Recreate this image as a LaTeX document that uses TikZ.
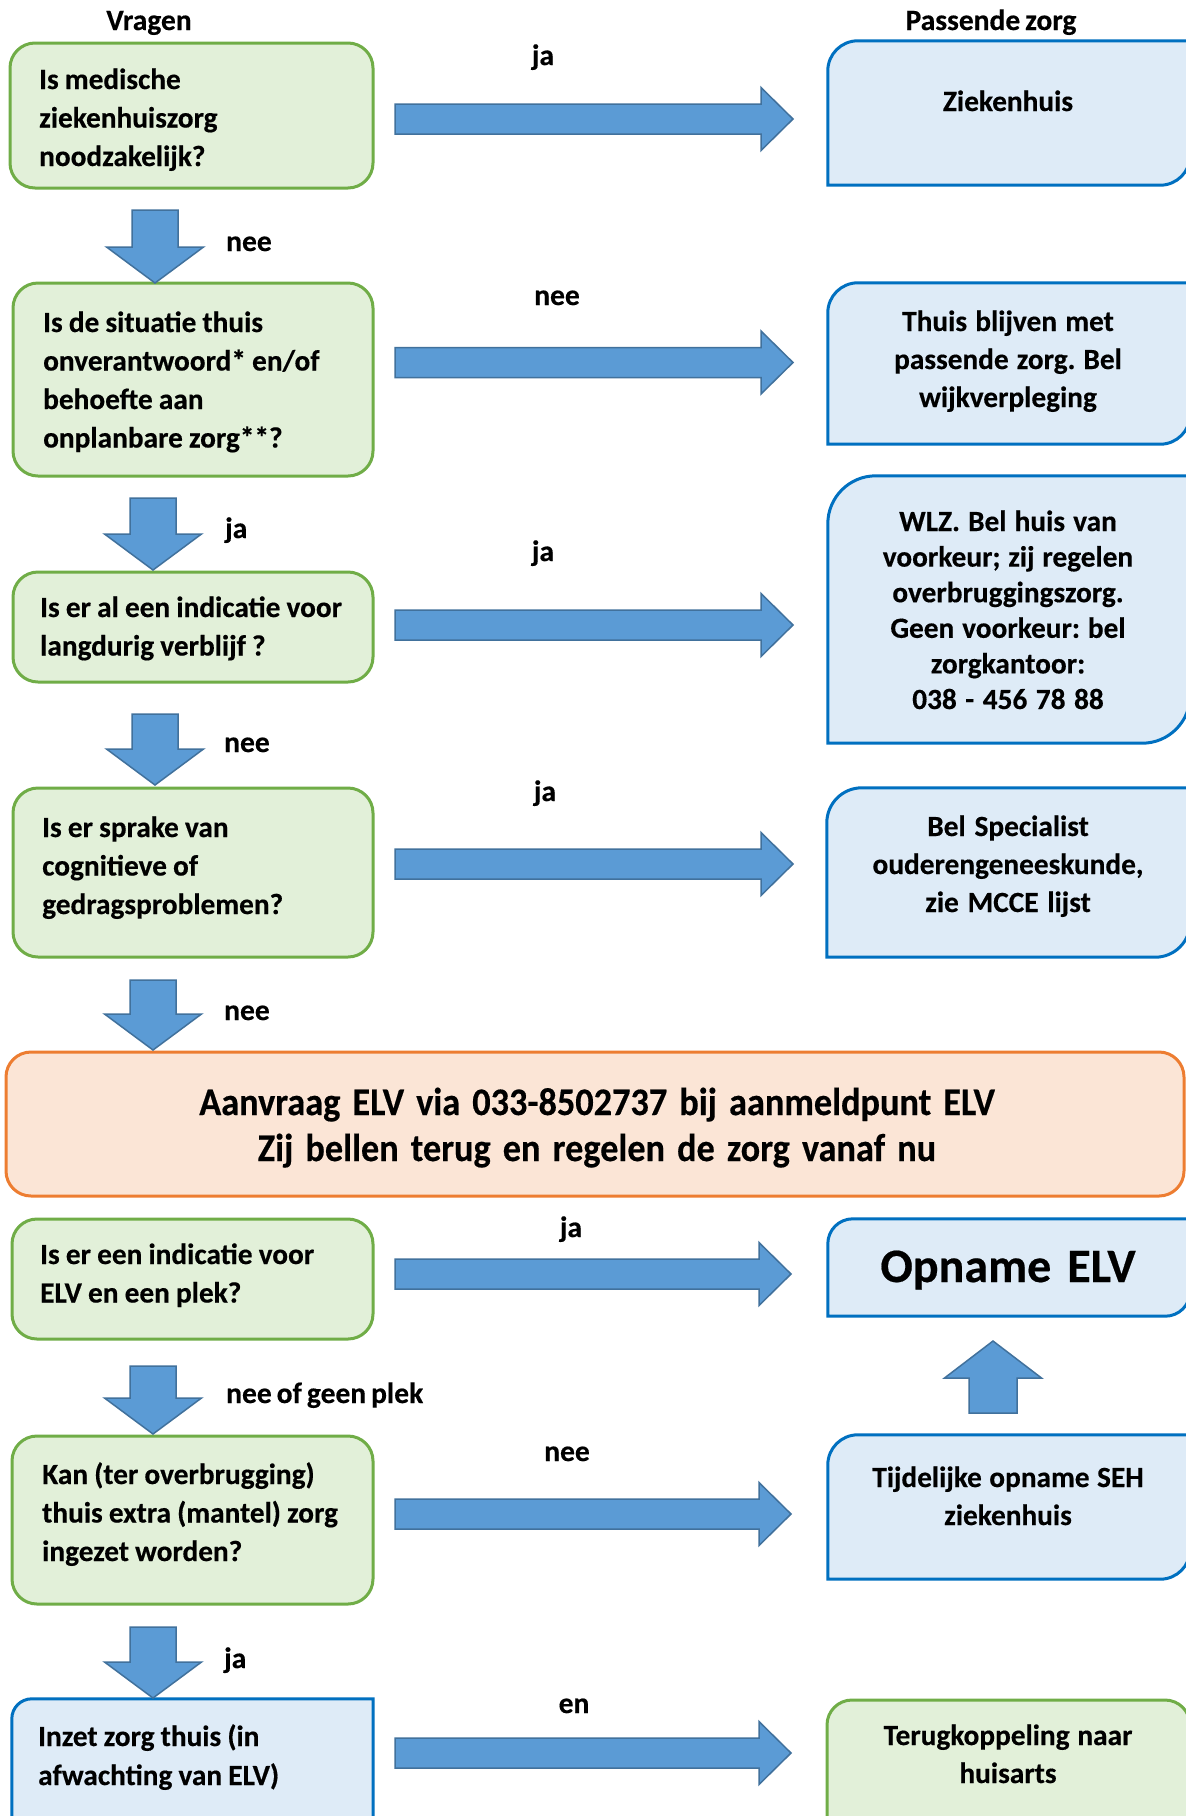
\documentclass[tikz,border=0pt]{standalone}
\usepackage{fontspec}
\setmainfont{Carlito}[BoldFeatures={FakeBold=0.4}]
\usetikzlibrary{calc}
\definecolor{gfill}{HTML}{E2F0D9}
\definecolor{gline}{HTML}{70AD47}
\definecolor{bfill}{HTML}{DEEBF7}
\definecolor{bline}{HTML}{0070C0}
\definecolor{ofill}{HTML}{FBE5D6}
\definecolor{oline}{HTML}{ED7D31}
\definecolor{afill}{HTML}{5B9BD5}
\definecolor{aline}{HTML}{41719C}
\newcommand\tfnt[2]{\bfseries\fontsize{#1}{#2}\selectfont\frenchspacing\spaceskip=0.17em plus 0.05em minus 0.03em\relax}
\newcommand\narrowsp{\frenchspacing\spaceskip=0.21em plus 0.05em minus 0.03em\relax}
\tikzset{
  qbox/.style={draw=gline, fill=gfill, line width=3pt, rounded corners=25pt, inner sep=0pt},
  obox/.style={draw=oline, fill=ofill, line width=3pt, rounded corners=25pt, inner sep=0pt},
  bshape/.style={draw=bline, fill=bfill, line width=3pt},
  shapenode/.style={inner sep=0pt, draw=none},
  qtext/.style={font=\tfnt{29.3}{38.5}, text width=360pt, align=left, inner sep=0pt, anchor=base west, execute at begin node=\narrowsp},
  rtext/.style={font=\tfnt{29.3}{38}, text width=380pt, align=center, inner sep=0pt, anchor=base, execute at begin node=\narrowsp},
  otext/.style={text width=1100pt, align=center, inner sep=0pt, anchor=base},
  lab/.style={font=\tfnt{29.5}{32}, inner sep=0pt},
  blk/.style={draw=aline, fill=afill, line width=1.5pt, line join=miter},
}
% horizontal block arrow from #1 to #2
\newcommand\hblk[2]{\draw[blk] ($(#1)+(0,15)$) -- ($(#2)+(-32,15)$) -- ($(#2)+(-32,31.5)$) -- (#2) -- ($(#2)+(-32,-31.5)$) -- ($(#2)+(-32,-15)$) -- ($(#1)+(0,-15)$) -- cycle;}
% downward block arrow from #1 to #2
\newcommand\dblk[2]{\draw[blk] ($(#1)+(-23,0)$) -- ($(#2)+(-23,36)$) -- ($(#2)+(-48.5,36)$) -- (#2) -- ($(#2)+(48.5,36)$) -- ($(#2)+(23,36)$) -- ($(#1)+(23,0)$) -- cycle;}
% upward block arrow from #1 to #2
\newcommand\ublk[2]{\draw[blk] ($(#1)+(-24,0)$) -- ($(#2)+(-24,-37)$) -- ($(#2)+(-48.5,-37)$) -- (#2) -- ($(#2)+(48.5,-37)$) -- ($(#2)+(24,-37)$) -- ($(#1)+(24,0)$) -- cycle;}
% box with rounded top-left and bottom-right corners
\newcommand\diagshape[3][bshape]{\path[#1] (#2.south west) -- ([yshift=-#3]#2.north west) arc[start angle=180,end angle=90,radius=#3] -- (#2.north east) -- ([yshift=#3]#2.south east) arc[start angle=0,end angle=-90,radius=#3] -- cycle;}

\begin{document}
\begin{tikzpicture}[x=1pt,y=1pt]
\clip (0,0) rectangle (1186,-1816);
\fill[white] (0,0) rectangle (1186,-1816);

% headers
\node[lab, anchor=base] (hv) at (149,-30) {Vragen};
\node[lab, anchor=base] (hp) at (991,-30) {Passende zorg};

% left question boxes
\node[qbox, minimum width=363pt, minimum height=145pt] (q1) at (191.5,-115.5) {};
\node[qbox, minimum width=360pt, minimum height=193pt] (q2) at (193,-379.5) {};
\node[qbox, minimum width=360pt, minimum height=110pt] (q3) at (193,-627) {};
\node[qbox, minimum width=360pt, minimum height=169pt] (q4) at (193,-872.5) {};
\node[qbox, minimum width=361pt, minimum height=120pt] (q6) at (192.5,-1279) {};
\node[qbox, minimum width=361pt, minimum height=168pt] (q7) at (192.5,-1520) {};
\node[shapenode, minimum width=361pt, minimum height=141pt] (q8) at (192.5,-1769.5) {};
\diagshape{q8}{20pt}

% orange box
\node[obox, minimum width=1178pt, minimum height=144pt] (elv) at (595,-1124) {};

% right boxes
\node[shapenode, minimum width=362pt, minimum height=144pt] (r1) at (1009,-113) {};
\node[shapenode, minimum width=362pt, minimum height=161pt] (r2) at (1009,-363.5) {};
\node[shapenode, minimum width=362pt, minimum height=267pt] (r3) at (1009,-609.5) {};
\node[shapenode, minimum width=363pt, minimum height=169pt] (r4) at (1008.5,-872.5) {};
\node[shapenode, minimum width=362pt, minimum height=97pt] (r6) at (1009,-1267.5) {};
\node[shapenode, minimum width=362pt, minimum height=144pt] (r7) at (1009,-1507) {};
\node[qbox, minimum width=363pt, minimum height=140pt] (r8) at (1008.5,-1770) {};
\diagshape{r1}{30pt}
\diagshape{r2}{30pt}
\diagshape{r3}{48pt}
\diagshape{r4}{35pt}
\diagshape{r6}{25pt}
\diagshape{r7}{30pt}

% texts in left boxes
\node[qtext] (q1t) at (39,-89) {Is medische\\ziekenhuiszorg\\noodzakelijk?};
\node[qtext] (q2t) at (43,-332) {Is de situatie thuis\\onverantwoord* en/of\\behoefte aan\\onplanbare zorg**?};
\node[qtext] (q3t) at (40,-617) {Is er al een indicatie voor\\langdurig verblijf ?};
\node[qtext] (q4t) at (42,-837) {Is er sprake van\\cognitieve of\\gedragsproblemen?};
\node[qtext] (q6t) at (40,-1264) {Is er een indicatie voor\\ELV en een plek?};
\node[qtext] (q7t) at (42,-1484) {Kan (ter overbrugging)\\thuis extra (mantel) zorg\\ingezet worden?};
\node[qtext, font=\tfnt{29.3}{39}] (q8t) at (38,-1746) {Inzet zorg thuis (in\\afwachting van ELV)};

% orange text
\node[otext, xscale=0.93, font=\bfseries\fontsize{39}{46}\selectfont] (elvt) at (597,-1115) {Aanvraag ELV via 033-8502737 bij aanmeldpunt ELV\\Zij bellen terug en regelen de zorg vanaf nu};

% texts in right boxes
\node[rtext] (r1t) at (1008,-111) {Ziekenhuis};
\node[rtext] (r2t) at (1008,-331) {Thuis blijven met\\passende zorg. Bel\\wijkverpleging};
\node[rtext, font=\tfnt{29.3}{35.6}] (r3t) at (1008,-531) {WLZ. Bel huis van\\voorkeur; zij regelen\\overbruggingszorg.\\Geen voorkeur: bel\\zorgkantoor:\\038 - 456 78 88};
\node[rtext] (r4t) at (1008,-836) {Bel Specialist\\ouderengeneeskunde,\\zie MCCE lijst};
\node[otext, text width=380pt, font=\bfseries\fontsize{48}{56}\selectfont] (r6t) at (1008,-1282) {Opname ELV};
\node[rtext] (r7t) at (1008,-1487) {Tijdelijke opname SEH\\ziekenhuis};
\node[rtext] (r8t) at (1008,-1745) {Terugkoppeling naar\\huisarts};

% horizontal arrows
\coordinate (h1s) at (395,-119);   \coordinate (h1e) at (793,-119);
\coordinate (h2s) at (395,-362.5); \coordinate (h2e) at (793,-362.5);
\coordinate (h3s) at (395,-625);   \coordinate (h3e) at (793,-625);
\coordinate (h4s) at (395,-864);   \coordinate (h4e) at (793,-864);
\coordinate (h6s) at (395,-1274);  \coordinate (h6e) at (791,-1274);
\coordinate (h7s) at (395,-1514);  \coordinate (h7e) at (791,-1514);
\coordinate (h8s) at (395,-1753);  \coordinate (h8e) at (791,-1753);
\hblk{h1s}{h1e}
\hblk{h2s}{h2e}
\hblk{h3s}{h3e}
\hblk{h4s}{h4e}
\hblk{h6s}{h6e}
\hblk{h7s}{h7e}
\hblk{h8s}{h8e}

% down arrows
\coordinate (d1s) at (155,-210);  \coordinate (d1e) at (155,-283);
\coordinate (d2s) at (153,-498);  \coordinate (d2e) at (153,-570);
\coordinate (d4s) at (155,-714);  \coordinate (d4e) at (155,-785);
\coordinate (d5s) at (153,-980);  \coordinate (d5e) at (153,-1050);
\coordinate (d6s) at (153,-1366); \coordinate (d6e) at (153,-1434);
\coordinate (d7s) at (153,-1627); \coordinate (d7e) at (153,-1698);
\dblk{d1s}{d1e}
\dblk{d2s}{d2e}
\dblk{d4s}{d4e}
\dblk{d5s}{d5e}
\dblk{d6s}{d6e}
\dblk{d7s}{d7e}

% up arrow
\coordinate (u1s) at (993,-1413); \coordinate (u1e) at (993,-1341);
\ublk{u1s}{u1e}

% labels on horizontal arrows
\node[lab, anchor=base] (l1) at (543,-65) {ja};
\node[lab, anchor=base] (l2) at (557,-305) {nee};
\node[lab, anchor=base] (l3) at (543,-561) {ja};
\node[lab, anchor=base] (l4) at (545,-801) {ja};
\node[lab, anchor=base] (l6) at (571,-1237) {ja};
\node[lab, anchor=base] (l7) at (567,-1461) {nee};
\node[lab, anchor=base] (l8) at (574,-1713) {en};

% labels on down arrows
\node[lab, anchor=base west] (m1) at (226,-251) {nee};
\node[lab, anchor=base west] (m2) at (225,-538) {ja};
\node[lab, anchor=base west] (m4) at (224,-752) {nee};
\node[lab, anchor=base west] (m5) at (224,-1020) {nee};
\node[lab, anchor=base west] (m6) at (226,-1403) {nee of geen plek};
\node[lab, anchor=base west] (m7) at (224,-1668) {ja};
\end{tikzpicture}
\end{document}
